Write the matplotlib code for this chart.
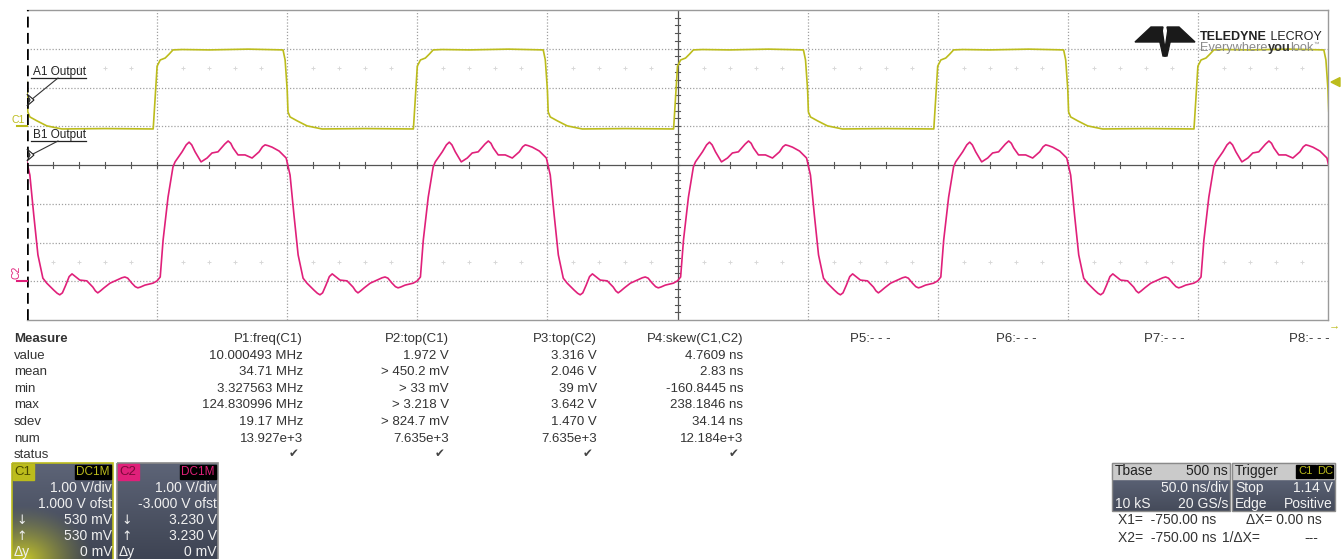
import numpy as np
import matplotlib
matplotlib.use('Agg')
import matplotlib.pyplot as plt
from matplotlib.patches import Rectangle, Polygon

plt.rcParams['font.family'] = ['Liberation Sans', 'DejaVu Sans']

# ---------------- data read from the screen ----------------
# one period (100 ns) of each trace, time in ns from the C1 rising edge, volts
ch1_t = [-1.5, -0.8, 0.0, 1.2, 3.1, 4.6, 6.1, 9.6, 20, 35, 48.4, 49.2, 50.0, 50.3,
         51.1, 53.8, 57.6, 63.4, 80, 98.4]
ch1_v = [-0.07, 0.68, 1.55, 1.71, 1.76, 1.86, 1.97, 1.98, 1.97, 1.99, 1.97, 1.71, 0.94,
         0.37, 0.24, 0.14, 0.01, -0.07, -0.06, -0.07]

ch2_t = [0.0, 1.2, 2.3, 4.2, 6.1, 6.9, 9.6, 11.2, 12.3, 13.3, 14.6, 16.9, 19.2, 21.1,
         23.4, 26.0, 27.3, 28.3, 29.2, 31.1, 33.8, 36.5, 39.2, 40.5, 41.5, 42.6, 44.2,
         46.9, 48.4, 49.6, 51.1, 52.6, 54.2, 56.1, 57.6, 60.3, 61.6, 62.6, 63.6, 64.9,
         66.2, 67.3, 68.4, 70.3, 73.0, 75.3, 76.3, 77.2, 78.2, 79.6, 81.9, 84.5, 86.5,
         87.6, 88.7, 90.3, 91.6, 92.6, 93.6, 95.3, 98.4]
ch2_v = [0.01, 0.11, 1.06, 2.17, 2.95, 3.08, 3.34, 3.52, 3.59, 3.52, 3.34, 3.08, 3.18,
         3.31, 3.34, 3.54, 3.62, 3.56, 3.44, 3.26, 3.26, 3.18, 3.34, 3.47, 3.52, 3.50,
         3.46, 3.36, 3.26, 3.18, 2.74, 1.71, 0.68, 0.08, -0.05, -0.23, -0.31, -0.35,
         -0.30, -0.10, 0.12, 0.19, 0.13, 0.03, 0.01, -0.15, -0.25, -0.30, -0.25, -0.17,
         -0.05, 0.03, 0.09, 0.11, 0.08, -0.05, -0.14, -0.17, -0.15, -0.10, -0.05]

first_edge = 50.0       # ns, first C1 rising edge on screen
period = 100.0          # ns
ch1_offset = 1.0        # V
ch2_offset = -3.0       # V
trig_level = 1.14       # V

meas_rows = ['value', 'mean', 'min', 'max', 'sdev', 'num', 'status']
p_headers = ['P1:freq(C1)', 'P2:top(C1)', 'P3:top(C2)', 'P4:skew(C1,C2)',
             'P5:- - -', 'P6:- - -', 'P7:- - -', 'P8:- - -']
p1_vals = ['10.000493 MHz', '34.71 MHz', '3.327563 MHz', '124.830996 MHz', '19.17 MHz', '13.927e+3']
p2_vals = ['1.972 V', '> 450.2 mV', '> 33 mV', '> 3.218 V', '> 824.7 mV', '7.635e+3']
p3_vals = ['3.316 V', '2.046 V', '39 mV', '3.642 V', '1.470 V', '7.635e+3']
p4_vals = ['4.7609 ns', '2.83 ns', '-160.8445 ns', '238.1846 ns', '34.14 ns', '12.184e+3']

c1_info = ['1.00 V/div', '1.000 V ofst', '530 mV', '530 mV', '0 mV']
c2_info = ['1.00 V/div', '-3.000 V ofst', '3.230 V', '3.230 V', '0 mV']

YEL = '#bcbc1c'
MAG = '#e0207a'

W, H = 1342, 559
fig = plt.figure(figsize=(W / 100, H / 100), dpi=100)
fig.patch.set_facecolor('white')

# ---------------- scope grid ----------------
L, R, T, B = 27, 1328, 10, 320
ax = fig.add_axes([L / W, 1 - B / H, (R - L) / W, (B - T) / H])
ax.set_xlim(0, 500)
ax.set_ylim(-4, 4)
ax.set_xticks([])
ax.set_yticks([])
for s in ax.spines.values():
    s.set_color('#9a9a9a')
    s.set_linewidth(1.0)
ax.spines['left'].set_visible(False)

for x in np.arange(50, 500, 50):
    if x != 250:
        ax.axvline(x, color='#a0a0a0', lw=0.9, ls=(0, (1, 1.5)), zorder=1)
for y in np.arange(-3, 4, 1):
    if y != 0:
        ax.axhline(y, color='#a0a0a0', lw=0.9, ls=(0, (1, 1.5)), zorder=1)
ax.axvline(250, color='#555555', lw=0.9, zorder=1)
ax.axhline(0, color='#555555', lw=0.9, zorder=1)
ax.axvline(0, color='black', lw=2.6, ls=(0, (3, 1.5)), zorder=5)

# center-line ticks
for x in np.arange(10, 500, 10):
    ax.plot([x, x], [-0.08, 0.08], color='#555555', lw=0.8, zorder=1)
for y in np.arange(-3.8, 4.0, 0.2):
    ax.plot([248.9, 251.1], [y, y], color='#555555', lw=0.8, zorder=1)
# faint marks at +/-2.5 div
mx = [x for x in np.arange(10, 500, 10) if x % 50 != 0]
ax.plot(mx, [2.5] * len(mx), '+', color='#d8d8d8', ms=3, mew=0.7, zorder=1)
ax.plot(mx, [-2.5] * len(mx), '+', color='#d8d8d8', ms=3, mew=0.7, zorder=1)

# ---------------- traces ----------------
t1, v1, t2, v2 = [], [], [], []
for k in range(-1, 5):
    t0 = first_edge + period * k
    t1 += [t + t0 for t in ch1_t]
    v1 += ch1_v
    t2 += [t + t0 for t in ch2_t]
    v2 += ch2_v
ax.plot(t1, np.array(v1) + ch1_offset, color=YEL, lw=1.2, zorder=3,
        solid_joinstyle='round')
ax.plot(t2, np.array(v2) + ch2_offset, color=MAG, lw=1.2, zorder=3,
        solid_joinstyle='round')

# ---------------- overlay in pixel coords ----------------
ov = fig.add_axes([0, 0, 1, 1])
ov.set_xlim(0, W)
ov.set_ylim(H, 0)
ov.axis('off')

def ypx(div):
    return 165 - div * 38.75

# channel ground markers
ov.plot([17, 27], [ypx(ch1_offset)] * 2, color=YEL, lw=1.5)
ov.text(12, ypx(ch1_offset) - 6, 'C1', color=YEL, fontsize=7.5, va='center')
ov.plot([17, 27], [ypx(ch2_offset)] * 2, color=MAG, lw=1.5)
ov.text(17, ypx(ch2_offset) - 9, 'C2', color=MAG, fontsize=7.5, va='center',
        ha='center', rotation=90)
# trigger marker
ty = ypx(trig_level + ch1_offset)
ov.add_patch(Polygon([[1331, ty], [1340, ty - 4.5], [1340, ty + 4.5]], closed=True,
                     color=YEL))
ov.text(1334, 325, '→', color=YEL, fontsize=8, ha='center', va='center')

# labels
for lab, ly, ey in [('A1 Output', 72, 100), ('B1 Output', 135, 155)]:
    ov.text(33, ly, lab, fontsize=8.5, color='#222222', va='center')
    ov.plot([31, 86], [ly + 6, ly + 6], color='#222222', lw=0.9)
    ov.plot([58, 31], [ly + 6, ey], color='#333333', lw=0.8)
    ov.add_patch(Polygon([[27, ey - 6], [34, ey], [27, ey + 6], [30, ey]], closed=True,
                         facecolor='white', edgecolor='#222222', lw=0.8, zorder=6))

# logo
LC = '#1a1a1a'
ov.add_patch(Polygon([[1135, 42], [1151, 27], [1163, 27], [1160, 42]], color=LC))
ov.add_patch(Polygon([[1195, 42], [1179, 27], [1167, 27], [1170, 42]], color=LC))
ov.add_patch(Polygon([[1157, 29], [1162, 29], [1166, 56], [1163, 56]], color=LC))
ov.add_patch(Polygon([[1173, 29], [1168, 29], [1164, 56], [1167, 56]], color=LC))
t_a = ov.text(1200, 40, 'TELEDYNE', fontsize=9, fontweight='bold', color='#222222',
              va='baseline')
ov.annotate(' LECROY', xy=(1, 0), xycoords=t_a, fontsize=9, color='#222222',
            va='bottom')
t_b = ov.text(1200, 51, 'Everywhere', fontsize=9.2, color='#8a8a8a', va='baseline')
t_c = ov.annotate('you', xy=(1, 0), xycoords=t_b, fontsize=9.2, fontweight='bold',
                  color='#333333', va='bottom')
t_d = ov.annotate('look', xy=(1, 0), xycoords=t_c, fontsize=9.2, color='#8a8a8a',
                  va='bottom')
ov.annotate('™', xy=(1, 0.6), xycoords=t_d, fontsize=4, color='#8a8a8a', va='bottom')

# ---------------- measurement table ----------------
row_y = [339 + 16.6 * i for i in range(8)]
col_r = [303, 449, 597, 743, 891, 1037, 1185, 1330]
TC = '#333333'
ov.text(14, row_y[0], 'Measure', fontsize=9.5, fontweight='bold', color=TC, va='center')
for i, r in enumerate(meas_rows):
    ov.text(14, row_y[i + 1], r, fontsize=9.5, color=TC, va='center')
for j, hd in enumerate(p_headers):
    ov.text(col_r[j], row_y[0], hd, fontsize=9.5, color=TC, va='center', ha='right')
for j, vals in enumerate([p1_vals, p2_vals, p3_vals, p4_vals]):
    for i, v in enumerate(vals):
        ov.text(col_r[j], row_y[i + 1], v, fontsize=9.5, color=TC, va='center', ha='right')
    ov.text(col_r[j] - 4, row_y[7] - 2, '✔', fontsize=8.5, color='#444444', va='center',
            ha='right', family=['DejaVu Sans'])

# ---------------- channel boxes ----------------
def grad_box(x0, x1, y0, y1, top, bot, glow=None):
    n = 60
    ct = np.array(matplotlib.colors.to_rgb(top))
    cb = np.array(matplotlib.colors.to_rgb(bot))
    f = np.linspace(0, 1, n)[:, None, None]
    img = ct * (1 - f) + cb * f
    img = np.repeat(img, 40, axis=1)
    if glow is not None:
        yy, xx = np.mgrid[0:n, 0:40]
        d = np.sqrt(((xx - 4) / 28.0) ** 2 + ((yy - n) / 34.0) ** 2)
        a = np.clip(1 - d, 0, 1)[:, :, None] ** 1.3
        img = img * (1 - a) + np.array(matplotlib.colors.to_rgb(glow)) * a
    ov.imshow(img, extent=[x0, x1, y1, y0], aspect='auto', zorder=2, interpolation='bilinear')

rows_y = [488, 504, 520, 536, 552]
for bx, name, col, info, gl in [(12, 'C1', YEL, c1_info, '#c8c82a'),
                                (117, 'C2', MAG, c2_info, None)]:
    grad_box(bx, bx + 101, 463, 559, '#5d6477', '#3e4453', glow=gl)
    ov.add_patch(Rectangle((bx, 463), 101, 100, fill=False,
                           edgecolor=(YEL if name == 'C1' else '#8a8a8a'), lw=1.2, zorder=3))
    ov.add_patch(Rectangle((bx + 1, 464), 21, 16, color=col, zorder=3))
    ov.text(bx + 2, 472, name, fontsize=9.5,
            color=('#4a4a00' if name == 'C1' else '#7a0a3a'), va='center', zorder=4)
    ov.add_patch(Rectangle((bx + 63, 465), 36, 14, color='black', zorder=3))
    ov.text(bx + 81, 472, 'DC1M', fontsize=8.5, color=col, va='center', ha='center', zorder=4)
    for i, s in enumerate(info):
        ov.text(bx + 100, rows_y[i], s, fontsize=10, color='#f0f0f0', va='center',
                ha='right', zorder=4)
    ov.text(bx + 4, rows_y[2], '↓', fontsize=9, color='#f0f0f0', va='center', zorder=4,
            family=['DejaVu Sans'])
    ov.text(bx + 4, rows_y[3], '↑', fontsize=9, color='#f0f0f0', va='center', zorder=4,
            family=['DejaVu Sans'])
    ov.text(bx + 2, rows_y[4], 'Δy', fontsize=10, color='#f0f0f0', va='center', zorder=4)

# ---------------- timebase / trigger ----------------
for bx, bw in [(1112, 118), (1232, 103)]:
    grad_box(bx, bx + bw, 479, 511, '#5a6174', '#454b5a')
    ov.add_patch(Rectangle((bx, 463), bw, 16, color='#cacaca', zorder=3))
    ov.add_patch(Rectangle((bx, 463), bw, 48, fill=False, edgecolor='#8a8a8a', lw=1, zorder=3))
WT = '#f2f2f2'
ov.text(1115, 471, 'Tbase', fontsize=10, color='#222222', va='center', zorder=4)
ov.text(1228, 471, '500 ns', fontsize=10, color='#222222', va='center', ha='right', zorder=4)
ov.text(1228, 488, '50.0 ns/div', fontsize=10, color=WT, va='center', ha='right', zorder=4)
ov.text(1115, 504, '10 kS', fontsize=10, color=WT, va='center', zorder=4)
ov.text(1228, 504, '20 GS/s', fontsize=10, color=WT, va='center', ha='right', zorder=4)
ov.text(1235, 471, 'Trigger', fontsize=10, color='#222222', va='center', zorder=4)
ov.add_patch(Rectangle((1296, 465), 20, 13, color='black', zorder=4))
ov.add_patch(Rectangle((1317, 465), 16, 13, color='black', zorder=4))
ov.text(1306, 471.5, 'C1', fontsize=8, color=YEL, va='center', ha='center', zorder=5)
ov.text(1325, 471.5, 'DC', fontsize=8, color=YEL, va='center', ha='center', zorder=5)
ov.text(1235, 488, 'Stop', fontsize=10, color=WT, va='center', zorder=4)
ov.text(1333, 488, '1.14 V', fontsize=10, color=WT, va='center', ha='right', zorder=4)
ov.text(1235, 504, 'Edge', fontsize=10, color=WT, va='center', zorder=4)
ov.text(1333, 504, 'Positive', fontsize=10, color=WT, va='center', ha='right', zorder=4)

ov.text(1118, 520, 'X1=  -750.00 ns', fontsize=10, color='#333333', va='center')
ov.text(1118, 538, 'X2=  -750.00 ns', fontsize=10, color='#333333', va='center')
ov.text(1246, 520, 'ΔX= 0.00 ns', fontsize=10, color='#333333', va='center')
ov.text(1222, 538, '1/ΔX=', fontsize=10, color='#333333', va='center')
ov.text(1318, 538, '---', fontsize=10, color='#333333', va='center', ha='right')

fig.savefig('out.png', dpi=100, facecolor='white')
